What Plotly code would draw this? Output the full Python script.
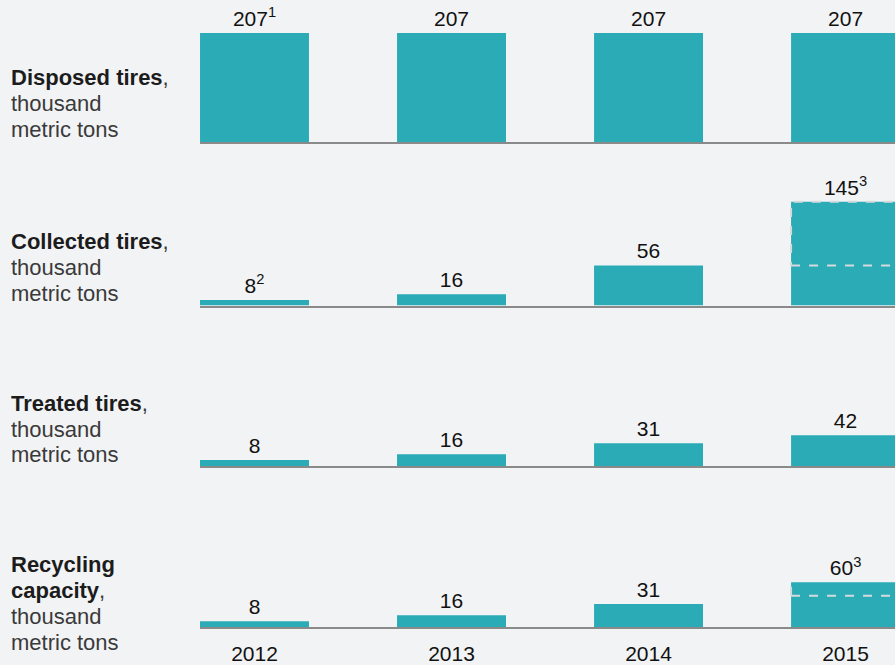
import plotly.graph_objects as go

years = ["2012", "2013", "2014", "2015"]
disposed = [207, 207, 207, 207]
collected = [8, 16, 56, 145]
treated = [8, 16, 31, 42]
recycling = [8, 16, 31, 60]
disposed_text = ["207<sup>1</sup>", "207", "207", "207"]
collected_text = ["8<sup>2</sup>", "16", "56", "145<sup>3</sup>"]
treated_text = ["8", "16", "31", "42"]
recycling_text = ["8", "16", "31", "60<sup>3</sup>"]
# dashed "estimated" split levels for 2015
collected_split = 56
recycling_split = 42

W, H = 895, 665
L = 200
BG = "#f2f3f5"
TEAL = "#2aabb6"
FONT = "Liberation Sans, Arial, sans-serif"

x = [0, 1, 2, 3]
bw = 0.553
xr = [-0.2766, 3.251]

# (baseline px, top px, px per unit)
panels = [
    (143, 0, 0.531),
    (307, 170, 0.72),
    (468, 340, 0.73),
    (630, 540, 0.75),
]
series = [(disposed, disposed_text), (collected, collected_text),
          (treated, treated_text), (recycling, recycling_text)]

fig = go.Figure()
layout = dict(width=W, height=H, margin=dict(l=L, r=0, t=0, b=0),
              paper_bgcolor=BG, plot_bgcolor=BG, showlegend=False,
              font=dict(family=FONT, size=21, color="#111"))

for i, ((vals, txt), (base, top, scale)) in enumerate(zip(series, panels)):
    n = "" if i == 0 else str(i + 1)
    fig.add_trace(go.Bar(x=x, y=vals, text=txt, textposition="outside",
                         width=bw, marker=dict(color=TEAL, line=dict(width=0)),
                         textfont=dict(size=21, color="#111", family=FONT),
                         cliponaxis=False, xaxis="x" + n, yaxis="y" + n,
                         hoverinfo="skip"))
    d0 = 1 - base / H
    d1 = 1 - top / H
    yrange = [0, (base - top) / scale]
    layout["yaxis" + n] = dict(domain=[d0, d1], range=yrange, visible=False,
                               anchor="x" + n, fixedrange=True)
    last = i == 3
    layout["xaxis" + n] = dict(domain=[0, 1], range=xr, anchor="y" + n,
                               showline=True, linecolor="#8a8a8a", linewidth=1.6,
                               showgrid=False, zeroline=False,
                               tickvals=x, ticktext=years,
                               showticklabels=last, ticks="outside" if last else "",
                               ticklen=7, tickcolor="rgba(0,0,0,0)",
                               tickfont=dict(size=21, color="#111", family=FONT))

fig.update_layout(**layout)

dash = dict(color="#d6dadd", width=2, dash="dash")
# collected 2015 dashed box
fig.add_shape(type="rect", xref="x2", yref="y2", x0=3 - bw / 2, x1=3 + bw / 2,
              y0=collected_split, y1=collected[3], line=dash, fillcolor="rgba(0,0,0,0)")
# recycling 2015 dashed lines
fig.add_shape(type="line", xref="x4", yref="y4", x0=3 - bw / 2, x1=3 + bw / 2,
              y0=recycling_split, y1=recycling_split, line=dash)
fig.add_shape(type="line", xref="x4", yref="y4", x0=3 - bw / 2, x1=3 - bw / 2,
              y0=recycling_split, y1=recycling[3], line=dash)

# left labels, one annotation per line
B = "<b style='color:#1c1c1c'>%s</b>"
labels = [
    [(B % "Disposed tires" + ",", 78), ("thousand", 104), ("metric tons", 130)],
    [(B % "Collected tires" + ",", 243), ("thousand", 269), ("metric tons", 295)],
    [(B % "Treated tires" + ",", 405), ("thousand", 431), ("metric tons", 457)],
    [(B % "Recycling", 567), (B % "capacity" + ",", 593), ("thousand", 619),
     ("metric tons", 645)],
]
for grp in labels:
    for t, ypx in grp:
        fig.add_annotation(text=t, xref="paper", yref="paper",
                           x=(10 - L) / (W - L), y=1 - ypx / H,
                           xanchor="left", yanchor="middle", showarrow=False,
                           borderpad=0,
                           font=dict(size=22, color="#3a3a3a", family=FONT))

fig.write_html("out.html")
